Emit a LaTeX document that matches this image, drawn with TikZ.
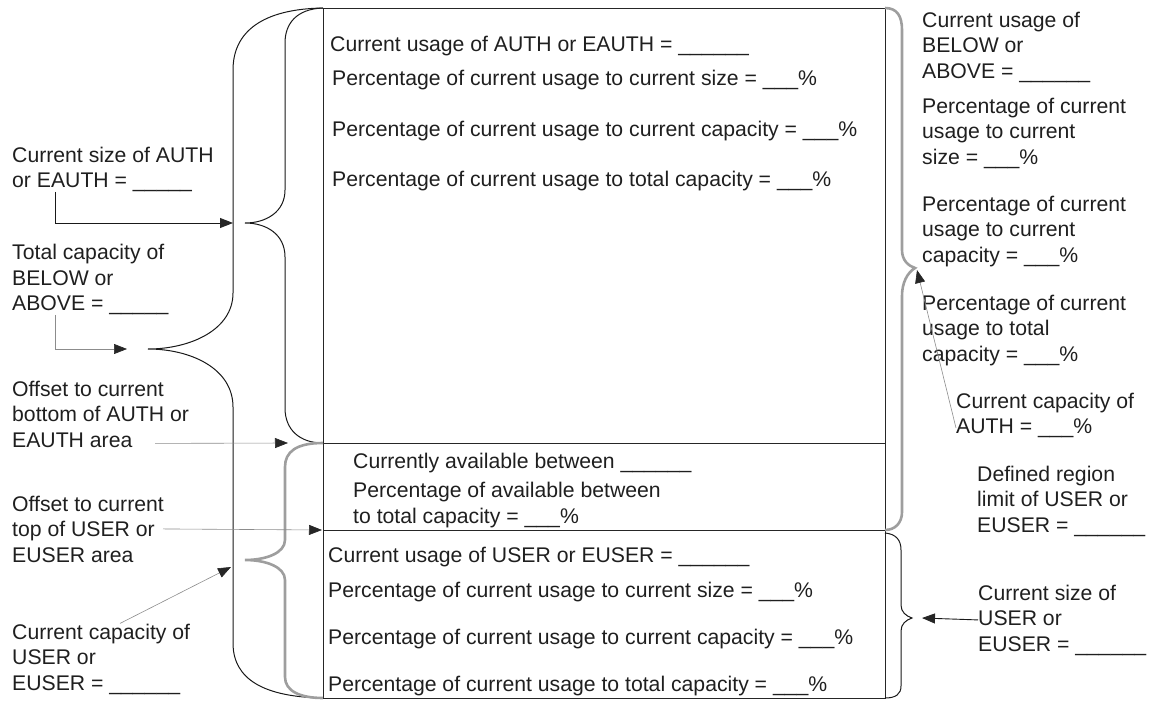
\documentclass[tikz,border=0pt]{standalone}
\usepackage{fontspec}
\setmainfont{Liberation Sans}
\usetikzlibrary{arrows.meta}

\begin{document}
\begin{tikzpicture}[x=1pt,y=-1pt,
    txt/.style={anchor=base west,inner sep=0pt,align=left,text=black!88,
      font=\fontsize{21.2}{25.5}\selectfont},
    blkbrace/.style={draw=black!90,line width=1pt},
    graybrace/.style={draw=black!38,line width=2.6pt},
    blkarrow/.style={draw=black!90,line width=0.9pt,-{Triangle[length=13pt,width=10pt,color=black!85]}},
    thinarrow/.style={draw=black!45,line width=0.6pt,-{Triangle[length=13pt,width=10pt,color=black!85]}}]
        \useasboundingbox (0,0) rectangle (1149,701);
        %% storage box
        \draw[black!85,line width=0.9pt] (323,8) rectangle (885,698);
        \draw[black!85,line width=0.9pt] (323,443) -- (885,443) (323,530) -- (885,530);
        %% box labels (y = baseline of last line)
        \node[txt] (auth) at (330,52) {Current usage of AUTH or EAUTH = \_\_\_\_\_\_};
        \foreach \y/\t/\n in {85/current size/a,136/current capacity/b,186/total capacity/c}
            \node[txt] (auth\n) at (332,\y) {Percentage of current usage to \t{} = \_\_\_\%};
        \node[txt] (avail) at (353,468) {Currently available between \_\_\_\_\_\_};
        \node[txt] (availp) at (353,523) {Percentage of available between\\to total capacity = \_\_\_\%};
        \node[txt] (user) at (328,562) {Current usage of USER or EUSER = \_\_\_\_\_\_};
        \foreach \y/\t/\n in {597/current size/a,644/current capacity/b,691/total capacity/c}
            \node[txt] (user\n) at (328,\y) {Percentage of current usage to \t{} = \_\_\_\%};
        %% braces
        \draw[blkbrace] (323,8) .. controls (262,9) and (233,32) .. (233,70) -- (233,293)
            .. controls (233,330) and (190,349) .. (148,349) coordinate (outertip)
            .. controls (190,349) and (233,368) .. (233,407) -- (233,643)
            .. controls (233,680) and (265,697) .. (323,698);
        \draw[blkbrace] (323,8) .. controls (296,9) and (285,24) .. (285,43) -- (285,190)
            .. controls (285,212) and (266,223) .. (245,223)
            .. controls (266,223) and (285,234) .. (285,257) -- (285,408)
            .. controls (285,430) and (300,443) .. (323,443);
        \draw[graybrace] (323,443) .. controls (296,443) and (285,452) .. (285,467) -- (285,540)
            .. controls (285,553) and (266,560) .. (245,560)
            .. controls (266,560) and (285,567) .. (285,580) -- (285,677)
            .. controls (285,691) and (300,698) .. (323,698);
        \draw[graybrace] (885,8) .. controls (897,8) and (902,16) .. (902,30) -- (902,250)
            .. controls (902,261) and (909,266) .. (915,268) coordinate (righttip)
            .. controls (907,273) and (902,283) .. (902,296) -- (902,512)
            .. controls (902,523) and (895,530) .. (885,530);
        \draw[blkbrace] (885,533) .. controls (896,534) and (901,540) .. (901,550) -- (901,605)
            .. controls (901,612) and (906,616) .. (912,618) coordinate (usertip)
            .. controls (906,620) and (901,624) .. (901,631) -- (901,686)
            .. controls (901,694) and (896,698) .. (885,698);
        %% side labels (y = baseline of last line)
        \node[txt] (csauth) at (12,187.5) {Current size of AUTH\\or EAUTH = \_\_\_\_\_};
        \node[txt] (tcap) at (12,310.5) {Total capacity of\\BELOW or\\ABOVE = \_\_\_\_\_};
        \node[txt] (offb) at (12,447) {Offset to current\\bottom of AUTH or\\EAUTH area};
        \node[txt] (offt) at (12,562) {Offset to current\\top of USER or\\EUSER area};
        \node[txt] (ccuser) at (12,690) {Current capacity of\\USER or\\EUSER = \_\_\_\_\_\_};
        \node[txt] (cubelow) at (922,78) {Current usage of\\BELOW or\\ABOVE = \_\_\_\_\_\_};
        \node[txt] (pcsize) at (922,164) {Percentage of current\\usage to current\\size = \_\_\_\%};
        \node[txt] (pccap) at (922,262) {Percentage of current\\usage to current\\capacity = \_\_\_\%};
        \node[txt] (ptcap) at (922,361) {Percentage of current\\usage to total\\capacity = \_\_\_\%};
        \node[txt] (ccauth) at (956,433.5) {Current capacity of\\AUTH = \_\_\_\%};
        \node[txt] (limit) at (977,532) {Defined region\\limit of USER or\\EUSER = \_\_\_\_\_\_};
        \node[txt] (csuser) at (978,651) {Current size of\\USER or\\EUSER = \_\_\_\_\_\_};
        %% pointers
        \coordinate (sizeto) at (233,223);
        \coordinate (authbot) at (288,443);
        \coordinate (usertop) at (322,530);
        \coordinate (capto) at (231,567);
        \draw[blkarrow] ([xshift=43pt]csauth.south west) |- (sizeto);
        \draw[thinarrow] ([xshift=43pt]tcap.south west) |- ([xshift=-21pt]outertip);
        \draw[thinarrow] ([shift={(143pt,4pt)}]offb.south west) -- (authbot);
        \draw[thinarrow] ([xshift=151pt]offt.west) -- (usertop);
        \draw[thinarrow] ([xshift=108pt]ccuser.north west) -- (capto);
        \draw[thinarrow] ([yshift=10pt]ccauth.south west) -- ([shift={(2pt,-2pt)}]righttip);
        \draw[blkarrow] (csuser.west) -- ([xshift=10pt]usertip);
    \end{tikzpicture}
\end{document}
